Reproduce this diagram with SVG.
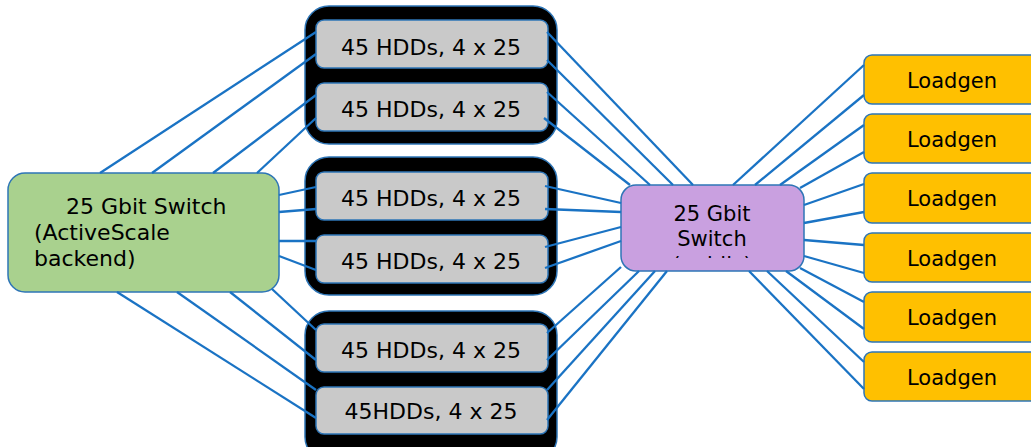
<svg xmlns="http://www.w3.org/2000/svg" width="1031" height="447" viewBox="0 0 1031 447">
<style>
.cont{fill:#000;stroke:#2e75b6;stroke-width:1.5}
.hdd{fill:#c9c9c9;stroke:#2e75b6;stroke-width:1.5}
.lg{fill:#ffc000;stroke:#2e75b6;stroke-width:1.5}
.sw1{fill:#a9d18e;stroke:#2e75b6;stroke-width:1.5}
.sw2{fill:#c9a0e0;stroke:#2e75b6;stroke-width:1.5}
text{font-family:"DejaVu Sans","Liberation Sans",sans-serif;font-size:21px;fill:#000}
.big{font-size:22px}
.c{text-anchor:middle}
#connectors line{stroke:#1a73c4;stroke-width:2.3}
</style>
<defs>
<clipPath id="pclip"><rect x="621" y="185" width="183" height="73"/></clipPath>
</defs>
<g id="rack1"><rect class="cont" x="305" y="6" width="252" height="138" rx="24"/></g>
<g id="rack2"><rect class="cont" x="305" y="157" width="252" height="138" rx="24"/></g>
<g id="rack3"><rect class="cont" x="305" y="311" width="252" height="150" rx="24"/></g>
<g id="hdd1"><rect class="hdd" x="316" y="20" width="232" height="48" rx="8"/><text class="c big" x="431" y="55">45 HDDs, 4 x 25</text></g>
<g id="hdd2"><rect class="hdd" x="316" y="83" width="232" height="48" rx="8"/><text class="c big" x="431" y="117">45 HDDs, 4 x 25</text></g>
<g id="hdd3"><rect class="hdd" x="316" y="172" width="232" height="48" rx="8"/><text class="c big" x="431" y="206">45 HDDs, 4 x 25</text></g>
<g id="hdd4"><rect class="hdd" x="316" y="235" width="232" height="48" rx="8"/><text class="c big" x="431" y="269">45 HDDs, 4 x 25</text></g>
<g id="hdd5"><rect class="hdd" x="316" y="324" width="232" height="48" rx="8"/><text class="c big" x="431" y="358">45 HDDs, 4 x 25</text></g>
<g id="hdd6"><rect class="hdd" x="316" y="387" width="232" height="47" rx="8"/><text class="c big" x="431" y="419">45HDDs, 4 x 25</text></g>
<g id="backend-switch"><rect class="sw1" x="8" y="173" width="271" height="119" rx="17"/>
<text class="big" x="66" y="214">25 Gbit Switch</text><text class="big" x="34" y="240">(ActiveScale</text><text class="big" x="34" y="266">backend)</text></g>
<g id="public-switch"><rect class="sw2" x="621" y="185" width="183" height="86" rx="15"/>
<text class="c" x="712" y="221">25 Gbit</text><text class="c" x="712" y="246">Switch</text>
<text class="c" x="712" y="272" clip-path="url(#pclip)">(public)</text></g>
<g id="lg1"><rect class="lg" x="864" y="55" width="176" height="49" rx="8"/><text class="c" x="952" y="88">Loadgen</text></g>
<g id="lg2"><rect class="lg" x="864" y="114" width="176" height="49" rx="8"/><text class="c" x="952" y="147">Loadgen</text></g>
<g id="lg3"><rect class="lg" x="864" y="173" width="176" height="50" rx="8"/><text class="c" x="952" y="206">Loadgen</text></g>
<g id="lg4"><rect class="lg" x="864" y="233" width="176" height="49" rx="8"/><text class="c" x="952" y="266">Loadgen</text></g>
<g id="lg5"><rect class="lg" x="864" y="292" width="176" height="50" rx="8"/><text class="c" x="952" y="325">Loadgen</text></g>
<g id="lg6"><rect class="lg" x="864" y="352" width="176" height="49" rx="8"/><text class="c" x="952" y="385">Loadgen</text></g>
<g id="connectors">
<line x1="100" y1="173" x2="316" y2="32"/>
<line x1="152" y1="173" x2="316" y2="54"/>
<line x1="213" y1="173" x2="316" y2="95"/>
<line x1="257" y1="173" x2="316" y2="118"/>
<line x1="279" y1="195" x2="316" y2="187"/>
<line x1="279" y1="212" x2="316" y2="209"/>
<line x1="279" y1="241" x2="316" y2="241"/>
<line x1="279" y1="256" x2="316" y2="270"/>
<line x1="272" y1="289" x2="316" y2="330"/>
<line x1="230" y1="292" x2="316" y2="360"/>
<line x1="177" y1="292" x2="316" y2="390"/>
<line x1="117" y1="292" x2="316" y2="418"/>
<line x1="547" y1="32" x2="693" y2="185"/>
<line x1="547" y1="60" x2="673" y2="185"/>
<line x1="547" y1="92" x2="650" y2="185"/>
<line x1="544" y1="118" x2="630" y2="185"/>
<line x1="545" y1="186" x2="621" y2="203"/>
<line x1="545" y1="209" x2="621" y2="212"/>
<line x1="545" y1="247" x2="621" y2="227"/>
<line x1="545" y1="268" x2="621" y2="241"/>
<line x1="547" y1="333" x2="621" y2="267"/>
<line x1="547" y1="360" x2="639" y2="271"/>
<line x1="547" y1="390" x2="655" y2="271"/>
<line x1="547" y1="420" x2="667" y2="271"/>
<line x1="733" y1="185" x2="864" y2="65"/>
<line x1="755" y1="185" x2="864" y2="95"/>
<line x1="780" y1="185" x2="864" y2="125"/>
<line x1="800" y1="188" x2="864" y2="152"/>
<line x1="804" y1="205" x2="864" y2="184"/>
<line x1="804" y1="223" x2="864" y2="212"/>
<line x1="804" y1="240" x2="864" y2="245"/>
<line x1="804" y1="256" x2="864" y2="273"/>
<line x1="800" y1="268" x2="864" y2="302"/>
<line x1="786" y1="271" x2="864" y2="329"/>
<line x1="767" y1="271" x2="864" y2="362"/>
<line x1="749" y1="271" x2="864" y2="389"/>
</g>
</svg>
